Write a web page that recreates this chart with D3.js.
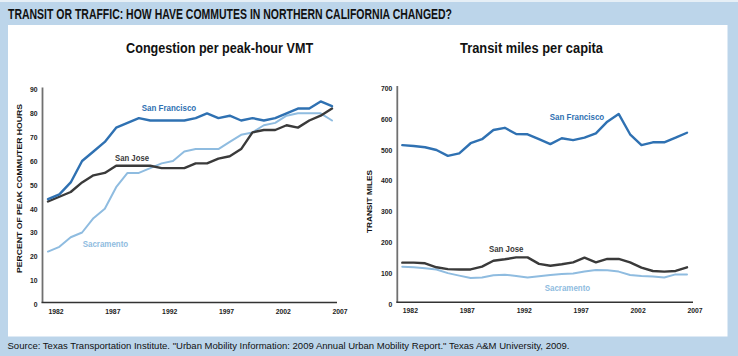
<!DOCTYPE html>
<html><head><meta charset="utf-8">
<script src="https://cdn.jsdelivr.net/npm/d3@7"></script>
<style>html,body{margin:0;padding:0;background:#bcd5ea;} svg{display:block}</style>
</head><body><svg id="c" width="738" height="356"></svg>
<script>
// ---------- DATA ----------
const years = [1982,1983,1984,1985,1986,1987,1988,1989,1990,1991,1992,1993,1994,1995,1996,1997,1998,1999,2000,2001,2002,2003,2004,2005,2006,2007];
const xTickYears = [1982,1987,1992,1997,2002,2007];

// Congestion: percent of peak commuter hours
const congestionSF  = [44,46,51,60,64,68,74,76,78,77,77,77,77,78,80,78,79,77,78,77,78,80,82,82,85,83];
const congestionSJ  = [43,45,47,51,54,55,58,58,58,58,57,57,57,59,59,61,62,65,72,73,73,75,74,77,79,82];
const congestionSac = [22,24,28,30,36,40,49,55,55,57,59,60,64,65,65,65,68,71,72,75,76,79,80,80,80,77];
const congestionTicks = [0,10,20,30,40,50,60,70,80,90];

// Transit miles per capita
const transitSF  = [515,512,508,499,480,488,521,534,564,571,551,550,534,518,537,531,539,553,591,616,550,515,524,524,539,555];
const transitSJ  = [134,134,132,119,113,112,112,121,140,145,151,151,130,124,129,135,150,135,146,146,135,118,107,105,107,119];
const transitSac = [121,119,116,112,100,92,84,86,93,95,91,86,90,94,97,99,105,110,109,105,94,91,89,86,96,96];
const transitTicks = [0,100,200,300,400,500,600,700];

const cityNames = ["San Francisco","San Jose","Sacramento"];
const colors = {"San Francisco":"#2f71b2","San Jose":"#3a3a3a","Sacramento":"#8fbce0"};

// ---------- DRAW ----------
const svg = d3.select("#c");
svg.append("rect").attr("x",0).attr("y",0).attr("width",738).attr("height",356).attr("fill","#bcd5ea");
svg.append("rect").attr("x",0).attr("y",0).attr("width",738).attr("height",2).attr("fill","#e6eff6");
svg.append("rect").attr("x",8).attr("y",25).attr("width",719.5).attr("height",311.5).attr("fill","#ffffff");

svg.append("text").attr("x",8).attr("y",19)
  .attr("font-family","Liberation Sans, Arial, sans-serif").attr("font-weight","bold").attr("font-size",15)
  .attr("textLength",444).attr("lengthAdjust","spacingAndGlyphs").attr("fill","#111")
  .text("TRANSIT OR TRAFFIC: HOW HAVE COMMUTES IN NORTHERN CALIFORNIA CHANGED?");

svg.append("text").attr("x",7.5).attr("y",349)
  .attr("font-family","Liberation Sans, Arial, sans-serif").attr("font-size",9.5)
  .attr("textLength",562).attr("lengthAdjust","spacingAndGlyphs").attr("fill","#111")
  .text('Source: Texas Transportation Institute. "Urban Mobility Information: 2009 Annual Urban Mobility Report." Texas A&M University, 2009.');

function panel(cfg){
  const g = svg.append("g");
  const x = d3.scaleLinear().domain([years[0], years[years.length-1]]).range(cfg.xr);
  const y = d3.scaleLinear().domain([0, cfg.ticks[cfg.ticks.length-1]]).range(cfg.yr);

  // title
  g.append("text").attr("x",cfg.titleX).attr("y",53).attr("text-anchor","middle")
    .attr("font-family","Liberation Sans, Arial, sans-serif").attr("font-weight","bold").attr("font-size",14)
    .attr("textLength",cfg.titleLen).attr("lengthAdjust","spacingAndGlyphs").attr("fill","#111")
    .text(cfg.title);

  // y axis (labels)
  const ya = g.append("g").attr("transform",`translate(${cfg.yAxisX-5},0)`)
    .call(d3.axisLeft(y).tickValues(cfg.ticks).tickSize(0).tickPadding(0).tickFormat(d3.format("d")));
  ya.select(".domain").remove();
  ya.selectAll("text").attr("font-family","Liberation Sans, Arial, sans-serif").attr("font-weight","bold")
    .attr("font-size",6.8).attr("fill","#222").attr("dy","0.35em");

  // x axis (labels, start-anchored at data position)
  const xa = g.append("g").attr("transform",`translate(0,${cfg.xAxisY+5})`)
    .call(d3.axisBottom(x).tickValues(xTickYears).tickSize(0).tickPadding(0).tickFormat(d3.format("d")));
  xa.select(".domain").remove();
  xa.selectAll("text").attr("font-family","Liberation Sans, Arial, sans-serif").attr("font-weight","bold")
    .attr("font-size",6.8).attr("fill","#222").attr("text-anchor","start").attr("dy","0.9em");

  // axis lines
  g.append("line").attr("x1",cfg.yAxisX).attr("x2",cfg.yAxisX).attr("y1",cfg.yr[1]-2).attr("y2",cfg.xAxisY)
    .attr("stroke","#707070").attr("stroke-width",1.8);
  g.append("line").attr("x1",cfg.yAxisX-1).attr("x2",cfg.xAxisEnd).attr("y1",cfg.xAxisY).attr("y2",cfg.xAxisY)
    .attr("stroke","#333").attr("stroke-width",1.4);

  // y axis title
  g.append("text").attr("transform",`translate(${cfg.yTitleX},${cfg.yTitleY}) rotate(-90)`)
    .attr("text-anchor","middle").attr("dy","0.35em")
    .attr("font-family","Liberation Sans, Arial, sans-serif").attr("font-weight","bold").attr("font-size",8)
    .attr("textLength",cfg.yTitleLen).attr("lengthAdjust","spacingAndGlyphs").attr("fill","#111")
    .text(cfg.yTitle);

  const line = d3.line().x((d,i)=>x(years[i])).y(d=>y(d));
  // draw order: Sacramento, San Jose, San Francisco
  const order = [2,1,0];
  order.forEach(k=>{
    const name = cityNames[k];
    g.append("path").datum(cfg.series[k]).attr("d",line).attr("fill","none")
      .attr("stroke",colors[name]).attr("stroke-width",k===2?2:2.4)
      .attr("stroke-linejoin","round").attr("stroke-linecap","round");
  });
  cfg.labels.forEach((lb,k)=>{
    const name = cityNames[k];
    g.append("text").attr("x",lb[0]).attr("y",lb[1]).attr("dy","0.35em")
      .attr("font-family","Liberation Sans, Arial, sans-serif").attr("font-weight","bold").attr("font-size",8.8)
      .attr("textLength",lb[2]).attr("lengthAdjust","spacingAndGlyphs")
      .attr("fill",colors[name]).text(name);
  });
}

panel({
  title:"Congestion per peak-hour VMT", titleX:219.6, titleLen:187,
  xr:[48,332], yr:[304,89.5], ticks:congestionTicks,
  yAxisX:42.5, xAxisY:302.5, xAxisEnd:337,
  yTitle:"PERCENT OF PEAK COMMUTER HOURS", yTitleX:19, yTitleY:188.5, yTitleLen:169,
  series:[congestionSF, congestionSJ, congestionSac],
  labels:[[141.7,108.3,54.5],[115,157.7,34],[82.7,244,45.5]]
});

panel({
  title:"Transit miles per capita", titleX:531.5, titleLen:143,
  xr:[402.3,687], yr:[304,88], ticks:transitTicks,
  yAxisX:397.3, xAxisY:302.3, xAxisEnd:693,
  yTitle:"TRANSIT MILES", yTitleX:369, yTitleY:201.5, yTitleLen:63,
  series:[transitSF, transitSJ, transitSac],
  labels:[[549.7,116.7,54.5],[489,249,34.5],[544.7,287.7,45.5]]
});
</script>
</body></html>
